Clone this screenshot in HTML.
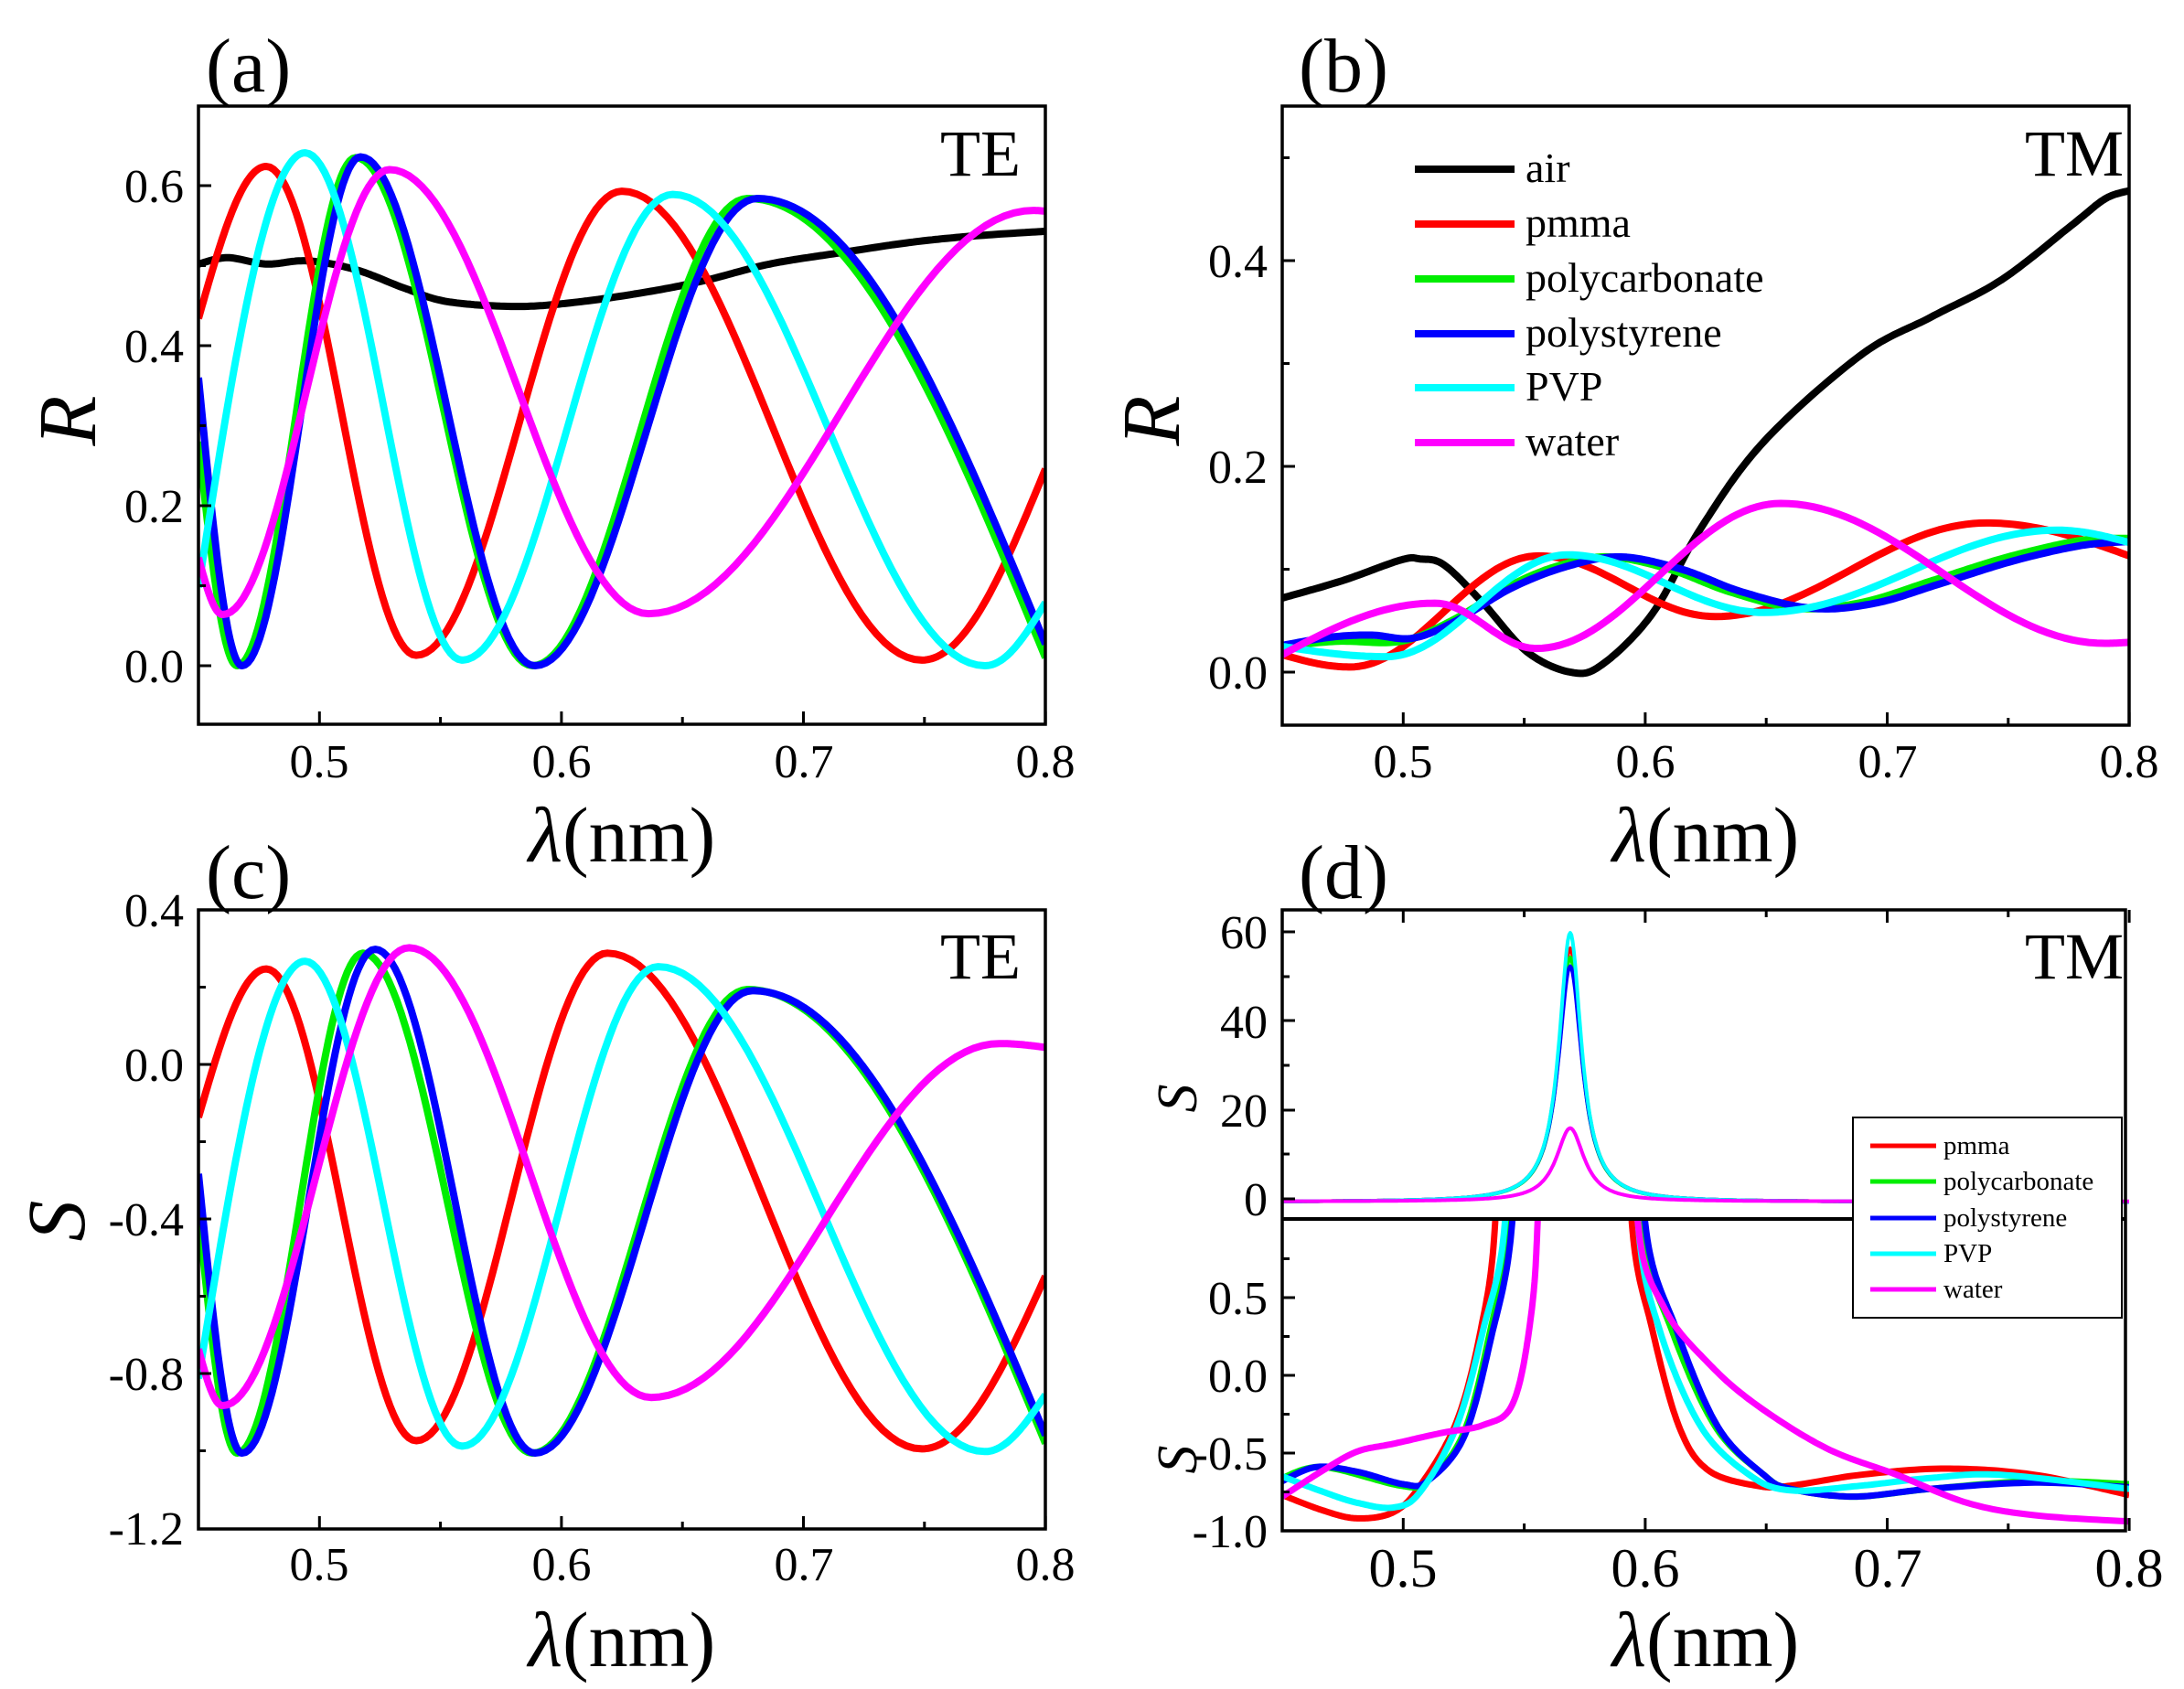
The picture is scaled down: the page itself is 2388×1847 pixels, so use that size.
<!DOCTYPE html>
<html><head><meta charset="utf-8"><style>
html,body{margin:0;padding:0;background:#fff;}
svg{display:block;}
text{font-family:"Liberation Serif",serif;fill:#000;}
</style></head><body>
<svg id="s" width="2388" height="1847" viewBox="0 0 2388 1847" xmlns="http://www.w3.org/2000/svg">
<defs>
<clipPath id="ca"><rect x="217" y="116" width="926" height="676"/></clipPath>
<clipPath id="cb"><rect x="1402" y="116" width="926" height="677"/></clipPath>
<clipPath id="cc"><rect x="217" y="995" width="926" height="677"/></clipPath>
<clipPath id="cdu"><rect x="1402" y="995" width="926" height="337"/></clipPath>
<clipPath id="cdl"><rect x="1402" y="1333" width="926" height="341"/></clipPath>
</defs>
<g id="curves"></g>
<g id="ticks" stroke="#000" stroke-width="3"></g>
<g fill="none" stroke="#000" stroke-width="3.5">
<rect x="217" y="116" width="926" height="676"/>
<rect x="1402" y="116" width="926" height="677"/>
<rect x="217" y="995" width="926" height="677"/>
<rect x="1402" y="995" width="922" height="679"/>
<line x1="1402" y1="1333" x2="2324" y2="1333" stroke-width="4"/>
</g>
<!-- legend d -->
<rect x="2026" y="1222" width="294" height="219" fill="#fff" stroke="#000" stroke-width="2"/>
<g stroke-width="5">
<line x1="2045" y1="1253" x2="2117" y2="1253" stroke="#ff0000"/>
<line x1="2045" y1="1292" x2="2117" y2="1292" stroke="#00ee00"/>
<line x1="2045" y1="1332" x2="2117" y2="1332" stroke="#0000ff"/>
<line x1="2045" y1="1371" x2="2117" y2="1371" stroke="#00ffff"/>
<line x1="2045" y1="1410" x2="2117" y2="1410" stroke="#ff00ff"/>
</g>
<g font-size="29">
<text x="2125" y="1262">pmma</text>
<text x="2125" y="1301">polycarbonate</text>
<text x="2125" y="1341">polystyrene</text>
<text x="2125" y="1380">PVP</text>
<text x="2125" y="1419">water</text>
</g>
<!-- legend b -->
<g stroke-width="8">
<line x1="1547" y1="185" x2="1656" y2="185" stroke="#000"/>
<line x1="1547" y1="245" x2="1656" y2="245" stroke="#ff0000"/>
<line x1="1547" y1="305" x2="1656" y2="305" stroke="#00ee00"/>
<line x1="1547" y1="365" x2="1656" y2="365" stroke="#0000ff"/>
<line x1="1547" y1="424" x2="1656" y2="424" stroke="#00ffff"/>
<line x1="1547" y1="484" x2="1656" y2="484" stroke="#ff00ff"/>
</g>
<g font-size="46">
<text x="1668" y="199">air</text>
<text x="1668" y="259">pmma</text>
<text x="1668" y="319">polycarbonate</text>
<text x="1668" y="379">polystyrene</text>
<text x="1668" y="438">PVP</text>
<text x="1668" y="498">water</text>
</g>
<!-- panel labels -->
<g font-size="84">
<text x="225" y="100">(a)</text>
<text x="1420" y="100">(b)</text>
<text x="225" y="982">(c)</text>
<text x="1420" y="982">(d)</text>
</g>
<g font-size="72" text-anchor="end">
<text x="1116" y="192">TE</text>
<text x="2322" y="192">TM</text>
<text x="1116" y="1070">TE</text>
<text x="2322" y="1070">TM</text>
</g>
<!-- tick labels -->
<g font-size="52" text-anchor="middle">
<text x="349" y="850">0.5</text><text x="614" y="850">0.6</text><text x="879" y="850">0.7</text><text x="1143" y="850">0.8</text>
<text x="1534" y="850">0.5</text><text x="1799" y="850">0.6</text><text x="2064" y="850">0.7</text><text x="2328" y="850">0.8</text>
<text x="349" y="1728">0.5</text><text x="614" y="1728">0.6</text><text x="879" y="1728">0.7</text><text x="1143" y="1728">0.8</text>
</g>
<g font-size="60" text-anchor="middle">
<text x="1534" y="1735">0.5</text><text x="1799" y="1735">0.6</text><text x="2064" y="1735">0.7</text><text x="2328" y="1735">0.8</text>
</g>
<g font-size="52" text-anchor="end">
<text x="201" y="746">0.0</text><text x="201" y="571">0.2</text><text x="201" y="396">0.4</text><text x="201" y="221">0.6</text>
<text x="1386" y="753">0.0</text><text x="1386" y="528">0.2</text><text x="1386" y="303">0.4</text>
<text x="201" y="1013">0.4</text><text x="201" y="1182">0.0</text><text x="201" y="1351">-0.4</text><text x="201" y="1520">-0.8</text><text x="201" y="1689">-1.2</text>
<text x="1386" y="1329">0</text><text x="1386" y="1232">20</text><text x="1386" y="1135">40</text><text x="1386" y="1037">60</text>
<text x="1386" y="1437">0.5</text><text x="1386" y="1522">0.0</text><text x="1386" y="1607">-0.5</text><text x="1386" y="1692">-1.0</text>
</g>
<!-- axis titles -->
<g font-size="86" text-anchor="middle">
<text x="680" y="942"><tspan font-style="italic">λ</tspan>(nm)</text>
<text x="1865" y="942"><tspan font-style="italic">λ</tspan>(nm)</text>
<text x="680" y="1822"><tspan font-style="italic">λ</tspan>(nm)</text>
<text x="1865" y="1822"><tspan font-style="italic">λ</tspan>(nm)</text>
</g>
<text font-size="90" font-style="italic" text-anchor="middle" transform="translate(104,460) rotate(-90)">R</text>
<text font-size="90" font-style="italic" text-anchor="middle" transform="translate(1289,460) rotate(-90)">R</text>
<text font-size="90" font-style="italic" text-anchor="middle" transform="translate(92,1335) rotate(-90)">S</text>
<text font-size="62" font-style="italic" text-anchor="middle" transform="translate(1308,1201) rotate(-90)">S</text>
<text font-size="62" font-style="italic" text-anchor="middle" transform="translate(1308,1596) rotate(-90)">S</text>
</svg>
<script>
(function(){
var NS="http://www.w3.org/2000/svg";
var cg=document.getElementById("curves"), tg=document.getElementById("ticks");
function px(x0){return function(X){return x0+(X-450)*2.646;};}
function wave(pts){
  var out=[];
  for(var i=0;i<pts.length-1;i++){
    var a=pts[i],b=pts[i+1],n=40;
    for(var k=(i?1:0);k<=n;k++){
      var t=k/n,f;
      if(i==0&&pts.length>2) f=Math.sin(Math.PI/2*t);
      else if(i==pts.length-2&&pts.length>2) f=1-Math.cos(Math.PI/2*t);
      else f=(1-Math.cos(Math.PI*t))/2;
      out.push([a[0]+(b[0]-a[0])*t,a[1]+(b[1]-a[1])*f]);
    }
  }
  return out;
}
function cr(p){
  var out=[];
  for(var i=0;i<p.length-1;i++){
    var p0=p[Math.max(i-1,0)],p1=p[i],p2=p[i+1],p3=p[Math.min(i+2,p.length-1)];
    for(var k=(i?1:0);k<=20;k++){
      var t=k/20,t2=t*t,t3=t2*t;
      var f=function(a,b,c,d){return 0.5*((2*b)+(-a+c)*t+(2*a-5*b+4*c-d)*t2+(-a+3*b-3*c+d)*t3);};
      out.push([f(p0[0],p1[0],p2[0],p3[0]),f(p0[1],p1[1],p2[1],p3[1])]);
    }
  }
  return out;
}
function draw(data,fx,fy,col,w,clip){
  var d="";
  for(var i=0;i<data.length;i++){d+=(i?"L":"M")+fx(data[i][0]).toFixed(1)+" "+fy(data[i][1]).toFixed(1);}
  var p=document.createElementNS(NS,"path");
  p.setAttribute("d",d);p.setAttribute("fill","none");p.setAttribute("stroke",col);
  p.setAttribute("stroke-width",w);p.setAttribute("stroke-linejoin","round");
  p.setAttribute("clip-path","url(#"+clip+")");cg.appendChild(p);
}
var R="#ff0000",G="#00ee00",B="#0000ff",C="#00ffff",M="#ff00ff",K="#000";
var W=8;
var ax=px(217),ay=function(Y){return 728-Y*0.875;};
draw(cr([[450,502],[462,510],[478,502],[495,506],[515,495],[535,472],[553,455],[582,449],[608,455],[637,468],[660,482],[686,502],[715,516],[744,529],[770,537],[800,543]]),ax,ay,K,W,"ca");
draw(wave([[450,434],[478,624],[540,13],[625,593],[749,7],[800,246]]),ax,ay,R,W,"ca");
draw(wave([[450,280],[466,0],[515,635],[588,0],[677,584],[800,10]]),ax,ay,G,W,"ca");
draw(wave([[450,360],[468,0],[517,636],[589,0],[681,584],[800,27]]),ax,ay,B,W,"ca");
draw(wave([[450,98],[494,641],[559,7],[646,589],[775,0],[800,79]]),ax,ay,C,W,"ca");
draw(wave([[450,135],[460,64],[529,620],[636,65],[795,569],[800,568]]),ax,ay,M,W,"ca");
var bx=px(1402),by=function(Y){return 735-Y*1.125;};
draw(cr([[450,72],[475,89],[499,109],[507,110],[517,104],[533,67],[551,20],[569,0],[582,7],[603,57],[623,140],[649,224],[689,308],[718,345],[747,381],[776,434],[790,460],[800,468]]),bx,by,K,W,"cb");
draw(wave([[450,17],[478,5],[556,113],[629,54],[741,145],[800,113]]),bx,by,R,W,"cb");
draw(cr([[450,25],[473,30],[499,30],[520,50],[545,85],[565,104],[585,112],[610,100],[635,78],[663,62],[690,68],[720,90],[750,112],[780,128],[800,130]]),bx,by,G,W,"cb");
draw(cr([[450,26],[470,34],[487,36],[504,33],[522,50],[545,82],[568,103],[590,112],[615,100],[640,78],[669,62],[695,67],[722,86],[752,108],[780,123],[800,127]]),bx,by,B,W,"cb");
draw(wave([[450,25],[493,15],[568,114],[649,58],[770,138],[800,126]]),bx,by,C,W,"cb");
draw(wave([[450,17],[513,67],[555,23],[656,164],[790,28],[800,29]]),bx,by,M,W,"cb");
var cy=function(Y){return 1164-Y*0.4225;};
draw(wave([[450,-137],[478,247],[540,-974],[619,288],[749,-995],[800,-548]]),ax,cy,R,W,"cc");
draw(wave([[450,-381],[466,-1006],[518,288],[588,-1006],[677,194],[800,-981]]),ax,cy,G,W,"cc");
draw(wave([[450,-283],[468,-1006],[523,298],[589,-1006],[679,191],[800,-960]]),ax,cy,B,W,"cc");
draw(wave([[450,-813],[494,267],[559,-988],[640,253],[775,-1002],[800,-855]]),ax,cy,C,W,"cc");
draw(wave([[450,-737],[460,-883],[537,302],[637,-862],[781,54],[800,44]]),ax,cy,M,W,"cc");
var dx=px(1402),duy=function(S){return 1311-S*4.865;},dly=function(S){return 1504-S*170;};
function lor(A,g,b){var o=[];for(var x=450;x<=800;x+=0.5){o.push([x,b+A/(1+Math.pow((x-569)/g,2))]);}return o;}
draw(lor(57,5.8,-0.7),dx,duy,R,4,"cdu");
draw(lor(55,5.8,-0.7),dx,duy,G,4,"cdu");
draw(lor(53,6,-0.7),dx,duy,B,4,"cdu");
draw(lor(60.5,5.6,-0.7),dx,duy,C,4,"cdu");
draw(lor(16.5,7,-0.6),dx,duy,M,4,"cdu");
var W2=7;
draw(cr([[450,-0.77],[467,-0.87],[481,-0.92],[496,-0.88],[507,-0.71],[522,-0.30],[532,0.29],[538,0.98],[541,2.5],[545,6]]),dx,dly,R,W2,"cdl");
draw(cr([[589,6],[592,2.5],[594.5,0.98],[603,0.29],[614,-0.33],[626,-0.61],[646,-0.71],[660,-0.71],[689,-0.64],[724,-0.60],[761,-0.64],[800,-0.77]]),dx,dly,R,W2,"cdl");
draw(cr([[450,-0.66],[467,-0.59],[499,-0.71],[510,-0.68],[525,-0.37],[536,0.29],[544,0.98],[547,2.5],[550,6]]),dx,dly,G,W2,"cdl");
draw(cr([[592,6],[595,2.5],[598,0.98],[611,0.29],[629,-0.33],[649,-0.64],[660,-0.73],[686,-0.78],[718,-0.73],[761,-0.68],[800,-0.70]]),dx,dly,G,W2,"cdl");
draw(cr([[450,-0.68],[464,-0.59],[481,-0.62],[500,-0.70],[510,-0.68],[525,-0.40],[536,0.22],[545,0.98],[548,2.5],[551,6]]),dx,dly,B,W2,"cdl");
draw(cr([[594,6],[597,2.5],[600,0.98],[613,0.29],[630,-0.33],[649,-0.64],[660,-0.73],[686,-0.78],[718,-0.73],[761,-0.69],[800,-0.72]]),dx,dly,B,W2,"cdl");
draw(cr([[450,-0.65],[467,-0.75],[481,-0.82],[496,-0.85],[507,-0.75],[522,-0.33],[533,0.29],[542,0.98],[545,2.5],[548,6]]),dx,dly,C,W2,"cdl");
draw(cr([[591,6],[594,2.5],[597,0.98],[606,0.29],[623,-0.33],[643,-0.64],[660,-0.74],[689,-0.71],[718,-0.66],[747,-0.64],[800,-0.73]]),dx,dly,C,W2,"cdl");
draw(cr([[450,-0.78],[467,-0.61],[481,-0.49],[496,-0.44],[516,-0.37],[533,-0.32],[545,-0.19],[552,0.29],[555.5,0.98],[557,2.5],[559,6]]),dx,dly,M,W2,"cdl");
draw(cr([[592,6],[595,2.5],[597,0.98],[608,0.43],[626,0.08],[646,-0.19],[675,-0.47],[704,-0.64],[733,-0.82],[761,-0.90],[800,-0.94]]),dx,dly,M,W2,"cdl");
function tk(x1,y1,x2,y2){var l=document.createElementNS(NS,"line");l.setAttribute("x1",x1);l.setAttribute("y1",y1);l.setAttribute("x2",x2);l.setAttribute("y2",y2);tg.appendChild(l);}
function xt(x0,ybot,top){for(var X=500;X<=800;X+=50){var x=x0+(X-450)*2.646,L=(X%100==0)?14:8;tk(x,ybot,x,ybot-L);if(top!==undefined)tk(x,top,x,top+L);}}
xt(217,792);xt(1402,793);xt(217,1672);xt(1402,1674,995);
function yt(x0,list,L){list.forEach(function(y){tk(x0,y,x0+L,y);});}
yt(217,[728,553,378,203],14);yt(217,[640.5,465.5,290.5],8);
yt(1402,[735,510,285],14);yt(1402,[622.5,397.5,172.5],8);
yt(217,[1164,1333,1502],14);yt(217,[1079.5,1248.5,1417.5,1586.5],8);
yt(1402,[1311,1214,1116,1019],14);yt(1402,[1262,1165,1068],8);
yt(1402,[1419,1504,1589],14);yt(1402,[1376.5,1461.5,1546.5,1631.5],8);
})();
</script>
</body></html>
